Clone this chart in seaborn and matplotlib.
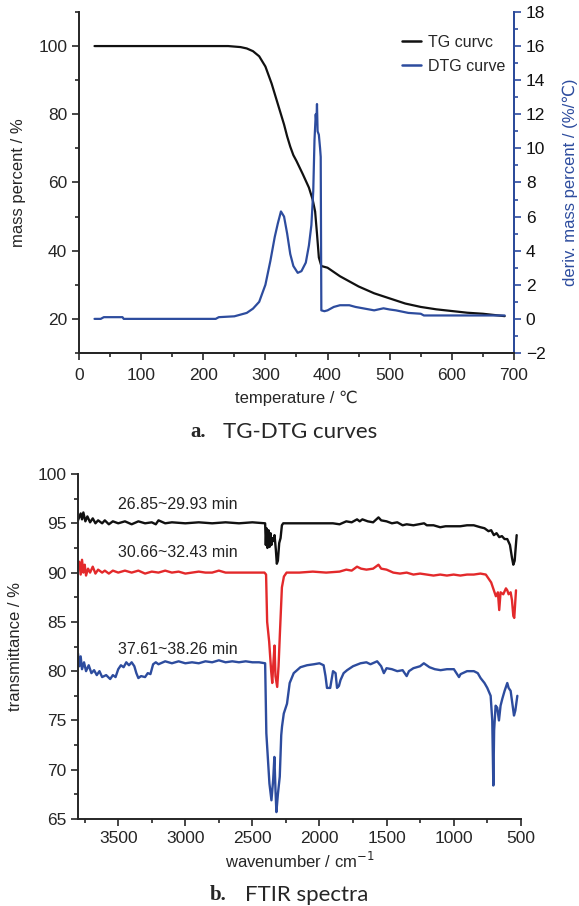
import seaborn as sns
from matplotlib import pyplot as plt
from matplotlib.ticker import MultipleLocator
from matplotlib.lines import Line2D
import pandas as pd

# TG / DTG
tg_temp = [25, 100, 200, 240, 260, 270, 280, 290, 300, 310, 320, 330, 335, 340, 345,
           350, 360, 370, 376, 380, 383, 386, 390, 400, 420, 450, 475, 500, 525, 550,
           575, 600, 625, 650, 660, 685]
tg_mass = [100, 100, 100, 100, 99.7, 99.3, 98.5, 97, 94, 89, 83, 77, 73.5, 70.5, 68,
           66.3, 62.5, 58.5, 55, 51.5, 45, 38, 35.5, 35, 32.5, 29.5, 27.5, 26, 24.5, 23.5,
           22.8, 22.3, 21.8, 21.5, 21.3, 20.8]

dtg_temp = [25, 35, 40, 70, 72, 220, 225, 250, 260, 270, 280, 290, 300, 308, 315, 320,
            325, 330, 335, 340, 345, 352, 358, 365, 370, 374, 377, 379, 381, 382, 383,
            384, 386, 388, 389, 390, 395, 400, 410, 420, 435, 445, 460, 475, 490, 500,
            510, 530, 550, 555, 600, 685]
dtg_rate = [0, 0, 0.1, 0.1, 0, 0, 0.1, 0.15, 0.25, 0.35, 0.6, 1.0, 2.0, 3.4, 4.8, 5.6,
            6.3, 6.0, 5.0, 3.8, 3.1, 2.7, 2.8, 3.3, 4.3, 5.5, 7.5, 10.5, 12.0, 11.5, 12.6,
            11.0, 10.8, 10.0, 9.5, 0.5, 0.45, 0.5, 0.7, 0.8, 0.8, 0.7, 0.6, 0.5, 0.62, 0.55,
            0.5, 0.35, 0.3, 0.2, 0.2, 0.2]

# FTIR spectra
ir1_wn = [3800, 3780, 3770, 3760, 3745, 3730, 3710, 3690, 3670, 3650, 3620, 3600, 3570,
          3540, 3500, 3450, 3400, 3350, 3300, 3250, 3220, 3200, 3150, 3100, 3000, 2900,
          2800, 2700, 2600, 2500, 2405, 2400, 2395, 2388, 2380, 2372, 2365, 2358, 2350,
          2343, 2335, 2325, 2318, 2310, 2300, 2290, 2280, 2270, 2100, 2000, 1900, 1850,
          1800, 1760, 1720, 1700, 1680, 1640, 1600, 1560, 1540, 1500, 1460, 1420, 1380,
          1350, 1300, 1260, 1220, 1200, 1150, 1100, 1060, 1000, 950, 900, 850, 800, 770,
          740, 720, 700, 680, 660, 640, 620, 600, 580, 565, 555, 545, 530]
ir1_t = [95.3, 96.0, 95.4, 96.1, 95.2, 95.7, 95.1, 95.5, 95.0, 95.3, 95.0, 95.3, 94.9,
         95.2, 95.0, 95.2, 94.9, 95.2, 95.0, 95.1, 94.9, 95.3, 95.0, 95.1, 95.0, 95.1,
         95.0, 95.1, 95.0, 95.1, 95.0, 92.8, 94.5, 92.5, 94.3, 92.6, 94.0, 92.8, 93.5,
         93.2, 93.8, 92.3, 90.9, 91.2, 93.0, 93.5, 94.8, 95.0, 95.0, 95.0, 95.0, 94.9,
         95.2, 95.1, 95.4, 95.2, 95.4, 95.2, 95.1, 95.6, 95.3, 95.2, 95.0, 95.1, 94.8,
         94.9, 94.8, 94.9, 95.0, 94.8, 94.8, 94.6, 94.7, 94.7, 94.7, 94.8, 94.8, 94.6, 94.5,
         94.2, 94.3, 93.8, 94.0, 93.6, 93.7, 93.4, 93.4, 92.8, 91.5, 90.8, 91.2, 93.8]

ir2_wn = [3800, 3790, 3780, 3770, 3760, 3750, 3740, 3725, 3710, 3690, 3670, 3650, 3620,
          3600, 3570, 3540, 3500, 3450, 3400, 3350, 3300, 3250, 3200, 3150, 3100, 3050,
          3000, 2950, 2900, 2850, 2800, 2750, 2700, 2600, 2500, 2410, 2398, 2390, 2375,
          2360, 2352, 2345, 2335, 2328, 2315, 2305, 2295, 2280, 2265, 2245, 2150, 2050,
          1950, 1850, 1800, 1760, 1720, 1690, 1650, 1600, 1560, 1540, 1500, 1450, 1400,
          1350, 1300, 1250, 1200, 1150, 1100, 1050, 1000, 950, 900, 850, 800, 760, 740,
          720, 700, 685, 670, 660, 650, 630, 610, 600, 590, 575, 565, 555, 548, 535]
ir2_t = [90.5, 91.1, 89.8, 91.3, 90.0, 90.8, 89.7, 90.4, 90.0, 90.6, 89.9, 90.3, 90.0,
         90.2, 89.9, 90.2, 90.0, 90.2, 90.0, 90.2, 89.9, 90.1, 90.0, 90.2, 90.0, 90.1,
         89.9, 90.0, 90.1, 90.0, 90.0, 90.2, 90.0, 90.0, 90.0, 90.0, 89.8, 85.0, 83.0,
         80.0, 78.8, 80.5, 82.6, 79.5, 78.4, 80.5, 83.8, 88.5, 89.6, 90.0, 90.0, 90.1,
         90.0, 90.1, 90.3, 90.2, 90.6, 90.4, 90.3, 90.4, 90.8, 90.4, 90.3, 90.0, 89.9,
         90.0, 89.8, 89.9, 89.8, 89.7, 89.8, 89.7, 89.8, 89.7, 89.8, 89.8, 89.9, 89.8, 89.4,
         89.0, 88.2, 87.6, 88.0, 86.2, 88.0, 87.8, 88.4, 88.2, 87.8, 88.0, 87.2, 85.6,
         85.4, 88.2]

ir3_wn = [3800, 3790, 3780, 3770, 3755, 3740, 3720, 3700, 3680, 3660, 3640, 3620, 3590,
          3560, 3540, 3520, 3500, 3480, 3460, 3440, 3420, 3400, 3380, 3365, 3350, 3330,
          3300, 3280, 3260, 3240, 3220, 3200, 3150, 3100, 3050, 3000, 2950, 2900, 2850,
          2800, 2750, 2700, 2650, 2600, 2550, 2500, 2450, 2405, 2396, 2373, 2358, 2345,
          2336, 2328, 2321, 2310, 2296, 2285, 2279, 2266, 2242, 2222, 2192, 2142, 2093,
          2042, 2000, 1969, 1955, 1944, 1920, 1899, 1880, 1869, 1855, 1843, 1820, 1794,
          1750, 1694, 1650, 1620, 1570, 1540, 1520, 1500, 1460, 1420, 1380, 1350, 1333,
          1300, 1250, 1222, 1180, 1140, 1097, 1050, 998, 960, 948, 900, 849, 820, 799, 770,
          749, 724, 712, 704, 698, 687, 675, 662, 650, 637, 620, 600, 590, 575, 560, 550,
          540, 525]
ir3_t = [81.8, 80.5, 81.5, 80.2, 80.9, 80.0, 80.6, 79.8, 80.1, 79.6, 80.0, 79.4, 79.6,
         79.2, 79.6, 79.4, 80.2, 80.6, 80.4, 80.9, 80.6, 80.9, 80.5, 79.8, 79.3, 79.5,
         79.4, 79.8, 79.7, 80.7, 80.9, 80.7, 81.0, 80.8, 81.0, 80.8, 80.9, 80.8, 81.0,
         80.9, 81.1, 80.9, 81.0, 80.9, 81.0, 80.9, 80.9, 80.8, 73.7, 68.6, 66.9, 69.0,
         71.3, 68.0, 65.7, 67.5, 69.3, 73.5, 74.4, 75.7, 76.7, 78.8, 79.8, 80.4, 80.6,
         80.7, 80.8, 80.6, 79.5, 78.3, 78.3, 80.0, 79.8, 78.3, 78.5, 79.1, 79.8, 80.1,
         80.5, 80.8, 80.9, 80.7, 81.0, 80.5, 79.8, 80.3, 80.2, 80.0, 80.1, 79.5, 80.0,
         80.3, 80.5, 80.8, 80.4, 80.2, 80.1, 80.2, 80.2, 79.4, 79.7, 80.0, 80.0, 79.8, 79.3,
         78.8, 78.3, 77.5, 75.0, 68.4, 74.0, 76.5, 76.3, 75.0, 76.5, 77.2, 78.0, 78.8,
         78.3, 78.0, 76.5, 75.5, 76.0, 77.5]

ir_labels = ["26.85~29.93 min", "30.66~32.43 min", "37.61~38.26 min"]
ir_label_y = [96.9, 92.0, 82.2]

BLACK = "#111111"
BLUE = "#2d4c9e"
RED = "#e3292b"

sns.set_theme(style="ticks")
plt.rcParams["font.family"] = ["Liberation Sans", "DejaVu Sans"]
plt.rcParams["axes.linewidth"] = 1.4

fig = plt.figure(figsize=(5.79, 9.06), dpi=100)

# ---------- a. TG-DTG ----------
ax1 = fig.add_axes([0.1364, 0.6104, 0.7513, 0.3764])
ax2 = ax1.twinx()
tg = pd.DataFrame({"temp": tg_temp, "mass": tg_mass})
dtg = pd.DataFrame({"temp": dtg_temp, "rate": dtg_rate})
sns.lineplot(data=tg, x="temp", y="mass", ax=ax1, color=BLACK, lw=1.6,
             estimator=None, sort=False)
sns.lineplot(data=dtg, x="temp", y="rate", ax=ax2, color=BLUE, lw=1.6,
             estimator=None, sort=False)

ax1.set_xlim(0, 700)
ax1.set_ylim(10, 110)
ax2.set_ylim(-2, 18)
ax1.xaxis.set_major_locator(MultipleLocator(100))
ax1.xaxis.set_minor_locator(MultipleLocator(50))
ax1.yaxis.set_major_locator(MultipleLocator(20))
ax1.yaxis.set_minor_locator(MultipleLocator(10))
ax2.yaxis.set_major_locator(MultipleLocator(2))
ax2.yaxis.set_minor_locator(MultipleLocator(1))
for a in (ax1, ax2):
    a.spines["top"].set_visible(False)
    a.tick_params(which="both", direction="out", labelsize=12.5, width=1.2)
    a.tick_params(which="major", length=5)
    a.tick_params(which="minor", length=3)
ax1.tick_params(axis="x", pad=6)
ax2.spines["left"].set_visible(False)
ax2.spines["right"].set_color(BLUE)
ax2.spines["right"].set_linewidth(1.4)
ax2.tick_params(axis="y", which="both", colors=BLUE, labelcolor=BLACK)
ax1.set_xlabel("temperature / ℃", fontsize=12, labelpad=5)
ax1.set_ylabel("mass percent / %", fontsize=12, labelpad=9)
ax2.set_ylabel("deriv. mass percent / (%/℃)", fontsize=12, color=BLUE, labelpad=12)

handles = [Line2D([], [], color=BLACK, lw=1.8), Line2D([], [], color=BLUE, lw=1.8)]
ax1.legend(handles, ["TG curvc", "DTG curve"], loc="upper left",
           bbox_to_anchor=(0.71, 0.975), frameon=False, fontsize=11.5,
           handlelength=1.2, handletextpad=0.4, labelspacing=0.55)

fig.text(0.328, 0.523, "a.", fontsize=15, fontweight="bold",
         family=["Liberation Serif", "DejaVu Serif"], ha="left", va="center")
fig.text(0.385, 0.523, "TG-DTG curves", fontsize=16,
         family=["Lato", "DejaVu Sans"], ha="left", va="center")

# ---------- b. FTIR ----------
ax3 = fig.add_axes([0.1347, 0.096, 0.7646, 0.3808])
spectra = [(ir1_wn, ir1_t, BLACK), (ir2_wn, ir2_t, RED), (ir3_wn, ir3_t, BLUE)]
for wn, t, c in spectra:
    df = pd.DataFrame({"wn": wn, "t": t})
    sns.lineplot(data=df, x="wn", y="t", ax=ax3, color=c, lw=1.7,
                 estimator=None, sort=False)
for lab, yy in zip(ir_labels, ir_label_y):
    ax3.text(3500, yy, lab, fontsize=11.5, ha="left", va="center", color="#222222")

ax3.set_xlim(3800, 500)
ax3.set_ylim(65, 100)
ax3.xaxis.set_major_locator(MultipleLocator(500))
ax3.xaxis.set_minor_locator(MultipleLocator(250))
ax3.yaxis.set_major_locator(MultipleLocator(5))
ax3.yaxis.set_minor_locator(MultipleLocator(2.5))
ax3.spines["top"].set_visible(False)
ax3.spines["right"].set_visible(False)
ax3.tick_params(which="both", direction="out", labelsize=12.5, width=1.2)
ax3.tick_params(which="major", length=5)
ax3.tick_params(which="minor", length=3)
ax3.set_xlabel("wavenumber / cm$^{-1}$", fontsize=12, labelpad=4)
ax3.set_ylabel("transmittance / %", fontsize=12, labelpad=10)

fig.text(0.363, 0.012, "b.", fontsize=15, fontweight="bold",
         family=["Liberation Serif", "DejaVu Serif"], ha="left", va="center")
fig.text(0.423, 0.012, "FTIR spectra", fontsize=16,
         family=["Lato", "DejaVu Sans"], ha="left", va="center")

plt.savefig("out.png", dpi=100)
